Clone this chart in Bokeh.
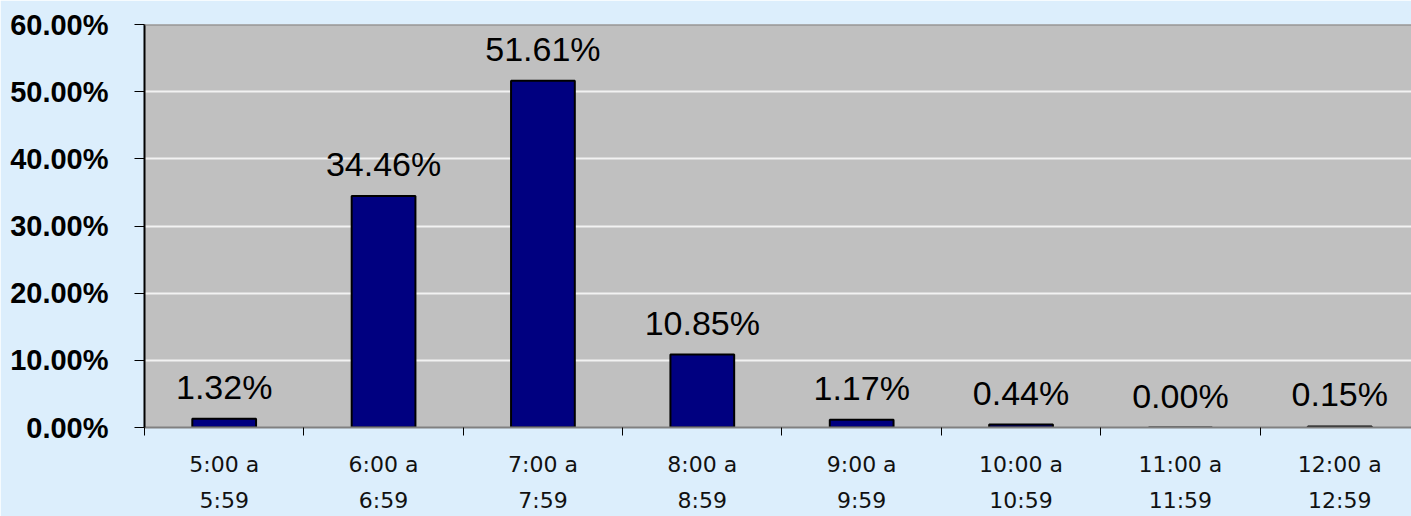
from bokeh.plotting import figure
from bokeh.models import (Range1d, FixedTicker, LinearAxis, Span, ColumnDataSource)
from bokeh.core.properties import value
from bokeh.embed import file_html
from bokeh.resources import INLINE

# ---- data ----
start_labels = ["5:00 a", "6:00 a", "7:00 a", "8:00 a", "9:00 a", "10:00 a", "11:00 a", "12:00 a"]
end_labels = ["5:59", "6:59", "7:59", "8:59", "9:59", "10:59", "11:59", "12:59"]
shares = [1.32, 34.46, 51.61, 10.85, 1.17, 0.44, 0.00, 0.15]
y_ticks = [0, 10, 20, 30, 40, 50, 60]
y_tick_labels = ["0.00%", "10.00%", "20.00%", "30.00%", "40.00%", "50.00%", "60.00%"]

n = len(shares)
centers = [i + 0.5 for i in range(n)]
bounds = [float(i) for i in range(n + 1)]
src = ColumnDataSource(dict(x=centers, top=shares,
                            lab=[f"{v:.2f}%" for v in shares]))

BG = "#DCEEFC"

p = figure(width=1411, height=516, output_backend="svg", toolbar_location=None,
           x_range=Range1d(0, 7.95), y_range=Range1d(0, 60),
           x_axis_location=None, y_axis_location=None,
           min_border_left=144, min_border_top=24, min_border_right=0,
           min_border_bottom=89)
p.background_fill_color = "#C0C0C0"
p.border_fill_color = BG
p.outline_line_color = None

p.xgrid.grid_line_color = None
p.ygrid.ticker = FixedTicker(ticks=y_ticks)
p.ygrid.grid_line_color = "#F2F2F2"
p.ygrid.grid_line_width = 2

# y axis
yax = LinearAxis(ticker=FixedTicker(ticks=y_ticks))
yax.major_label_overrides = {t: l for t, l in zip(y_ticks, y_tick_labels)}
yax.axis_line_color = "black"
yax.axis_line_width = 2
yax.major_tick_line_color = "black"
yax.major_tick_line_width = 1
yax.major_tick_out = 10
yax.major_tick_in = 0
yax.minor_tick_line_color = None
yax.major_label_standoff = 26
yax.major_label_text_font = "Liberation Sans"
yax.major_label_text_font_style = "bold"
yax.major_label_text_font_size = "29px"
yax.major_label_text_color = "black"
p.add_layout(yax, "left")

# x axis line 1 (with boundary ticks as minor ticks)
xax = LinearAxis(ticker=FixedTicker(ticks=centers, minor_ticks=bounds))
xax.major_label_overrides = {c: l for c, l in zip(centers, start_labels)}
xax.axis_line_color = "#808080"
xax.axis_line_width = 2
xax.major_tick_line_color = None
xax.major_tick_out = 0
xax.major_tick_in = 0
xax.minor_tick_line_color = "black"
xax.minor_tick_line_width = 1
xax.minor_tick_out = 8
xax.minor_tick_in = 0
xax.major_label_standoff = 16
xax.major_label_text_font = "DejaVu Sans"
xax.major_label_text_font_size = "22px"
xax.major_label_text_color = "#111111"
p.add_layout(xax, "below")

# x axis line 2
xax2 = LinearAxis(ticker=FixedTicker(ticks=centers, minor_ticks=[]))
xax2.major_label_overrides = {c: l for c, l in zip(centers, end_labels)}
xax2.axis_line_color = None
xax2.major_tick_line_color = None
xax2.minor_tick_line_color = None
xax2.major_tick_out = 0
xax2.major_tick_in = 0
xax2.major_label_standoff = 8
xax2.major_label_text_font = "DejaVu Sans"
xax2.major_label_text_font_size = "22px"
xax2.major_label_text_color = "#111111"
p.add_layout(xax2, "below")

# top border of plot area
p.add_layout(Span(location=60, dimension="width", line_color="#808080", line_width=2))

# bars
p.vbar(x="x", top="top", bottom=0, width=0.4, source=src,
       fill_color="#000080", line_color="black", line_width=2)

# value labels
p.text(x="x", y="top", text="lab", source=src, text_align="center",
       text_baseline="alphabetic", y_offset=-32,
       text_font=value("Liberation Sans"), text_font_size="34px", text_color="black")

html = file_html(p, INLINE)
html = html.replace("<body>", f'<body style="background:{BG};margin:0">', 1)
open("out.html", "w").write(html)
